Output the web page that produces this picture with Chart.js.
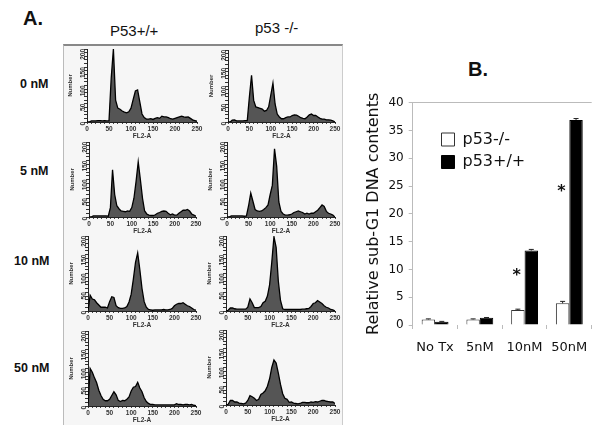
<!DOCTYPE html>
<html><head><meta charset="utf-8">
<script src="https://cdn.jsdelivr.net/npm/chart.js@4"></script>
<style>
html,body{margin:0;padding:0;background:#fff;width:600px;height:433px;overflow:hidden}
#page{position:relative;width:600px;height:433px}
#sheet{position:absolute;left:63px;top:44px;width:280px;height:381px;background:#f6f6f6;border-top:2px solid #888;border-left:1px solid #bbb;border-right:1px solid #ccc;box-sizing:border-box}
canvas{position:absolute;display:block}
.t{position:absolute;white-space:nowrap;color:#111;font-family:"Liberation Sans",Arial,sans-serif;line-height:1}
.h{font-weight:bold;font-size:20px}
.c{font-size:15px}
.r{font-weight:bold;font-size:12.5px}
</style></head>
<body><div id="page"><div id="sheet"></div></div>
<script>
// ---------- panel A data ----------
const fl2Bins=[0,5,10,15,20,25,30,35,40,45,50,55,60,65,70,75,80,85,90,95,100,105,110,115,120,125,130,135,140,145,150,155,160,165,170,175,180,185,190,195,200,205,210,215,220,225,230,235,240,245,250];
const wt0=[0,0,3,3,3,4,4,3,4,3, 3,120,200,60,38,35,30,27,25,28, 38,62,85,88,55,22,12,8,8,9, 7,10,12,10,16,14,14,12,9,8, 10,12,14,16,14,13,14,10,6,4, 2];
const ko0=[0,0,5,6,3,3,3,3,4,4, 70,130,60,42,40,38,36,30,32,42, 75,108,50,22,14,9,9,12,14,14, 18,20,19,16,12,10,9,14,20,22, 18,18,14,10,8,8,6,6,5,3, 0];
const wt5=[0,0,3,3,3,3,3,3,3,2, 25,126,60,30,22,16,15,14,16,15, 25,50,95,147,100,50,16,8,5,4, 4,6,10,12,15,16,15,10,6,8, 5,5,10,14,18,18,20,16,8,5, 2];
const ko5=[0,0,3,3,3,3,3,3,2,3, 30,64,42,20,16,15,16,20,25,32, 60,85,182,135,40,15,8,5,5,6, 8,12,14,16,14,12,8,10,8,10, 10,14,18,25,32,28,15,10,8,5, 0];
const wt10=[0,42,32,30,22,16,10,10,10,8, 25,38,36,14,9,7,7,8,12,24, 45,85,130,155,110,60,25,10,4,3, 2,3,3,3,3,4,3,3,4,7, 14,18,20,20,22,18,14,12,8,4, 2];
const ko10=[0,2,8,8,6,5,5,5,5,5, 10,32,22,9,9,9,12,22,26,40, 70,130,198,170,80,28,6,4,4,4, 4,4,4,4,4,5,5,6,7,12, 20,22,28,24,20,14,10,8,4,3, 0];
const wt50=[0,100,90,75,62,42,28,18,14,14, 18,28,38,30,15,12,15,14,18,24, 40,50,52,63,48,38,22,12,7,4, 4,3,3,3,3,3,3,3,3,3, 3,6,4,4,3,4,4,3,4,2, 1];
const ko50=[0,2,12,12,8,8,5,4,3,5, 12,25,22,18,12,15,28,32,38,50, 70,100,120,112,85,55,30,18,15,7, 8,5,4,3,4,7,7,6,6,8, 7,9,8,10,12,12,10,9,8,8, 4];
const histYTicks=[0,50,100,150,200];
const histXTicks=[0,50,100,150,200,250];
// ---------- panel B data ----------
const doseLabels=["No Tx","5nM","10nM","50nM"];
const koSubG1=[1.0,1.0,2.7,3.9];
const koErr=[0.1,0.1,0.15,0.35];
const wtSubG1=[0.6,1.3,13.4,36.9];
const wtErr=[0.05,0.05,0.2,0.25];
const starDoses=["10nM","50nM"];
const starValues=[8.9,24];

const page=document.getElementById('page');
function text(str,cls,l,t){const d=document.createElement('div');d.className='t '+cls;d.textContent=str;d.style.left=l+'px';d.style.top=t+'px';page.appendChild(d);}
function mk(l,t,w,h,blur){const c=document.createElement('canvas');c.width=w;c.height=h;c.style.left=l+'px';c.style.top=t+'px';c.style.width=w+'px';c.style.height=h+'px';if(blur)c.style.filter='blur('+blur+'px)';page.appendChild(c);return c;}
Chart.defaults.animation=false;
Chart.defaults.font.family='"Liberation Sans",Arial,sans-serif';

function hist(vals,x0,x250,y0,y200){
  const L=20,R=8,T=6,B=18;
  const c=mk(Math.round(x0-L),Math.round(y200-T),Math.round(x250-x0+L+R),Math.round(y0-y200+T+B),0.45);
  new Chart(c,{type:'line',
    data:{datasets:[{data:fl2Bins.map((x,i)=>({x,y:vals[i]})),borderColor:'#000',borderWidth:1.3,backgroundColor:'#555',fill:'origin',pointRadius:0,tension:0}]},
    options:{responsive:false,events:[],layout:{padding:{top:T,right:R}},
      plugins:{legend:{display:false},tooltip:{enabled:false}},
      scales:{
        x:{type:'linear',min:0,max:250,afterFit(s){s.height=B;},
          afterBuildTicks(s){const a=[];for(let v=0;v<=250;v+=10)a.push({value:v});s.ticks=a;},
          border:{color:'#222',width:1},
          grid:{drawOnChartArea:false,tickLength:2,tickColor:'#444'},
          ticks:{autoSkip:false,maxRotation:0,padding:1,color:'#333',font:{size:6.5,weight:'bold'},callback:v=>histXTicks.includes(v)?String(v):''},
          title:{display:true,text:'FL2-A',color:'#333',font:{size:6.5,weight:'bold'},padding:{top:-1,bottom:0}}},
        y:{min:0,max:200,afterFit(s){s.width=L;},
          afterBuildTicks(s){const a=[];for(let v=0;v<=200;v+=10)a.push({value:v});s.ticks=a;},
          border:{color:'#222',width:1},
          grid:{drawOnChartArea:false,tickLength:3,tickColor:'#333'},
          ticks:{autoSkip:false,minRotation:90,maxRotation:90,padding:1,color:'#333',font:{size:6.5,weight:'bold'},callback:v=>histYTicks.includes(v)?String(v):''},
          title:{display:true,text:'Number',color:'#333',font:{size:6,weight:'bold'},padding:{top:0,bottom:0}}}
      }}});
}
hist(wt0,86.7,197,122.3,49);
hist(ko0,227.7,335,122.3,50);
hist(wt5,89.3,196.7,216.7,141.7);
hist(ko5,226.7,335,216.7,141.7);
hist(wt10,88.3,196.7,311,236);
hist(ko10,226,335,311,236);
hist(wt50,88.3,196.7,405.7,330.7);
hist(ko50,226,335,405,330);

text('A.','h',23,8);
text('B.','h',468,59);
text('P53+/+','c',110,23);
text('p53 -/-','c',255,20);
text('0 nM','r',20,78);
text('5 nM','r',20,165);
text('10 nM','r',14,255);
text('50 nM','r',14,362);

// ---------- panel B chart ----------
const bX=364,bY=90,bW=236,bH=268;
const bL=48.7,bT=12.7,bR=8.3,bB=33;
const barPlugin={id:'barExtras',
  afterLayout(chart){const lg=chart.legend;lg.left=435-bX;lg.top=125-bY;},
  afterDatasetsDraw(chart){
    const {ctx,scales:{x,y}}=chart;
    const errs=[koErr,wtErr];
    ctx.save();ctx.strokeStyle='#222';ctx.lineWidth=1;
    chart.data.datasets.forEach((ds,di)=>{
      chart.getDatasetMeta(di).data.forEach((el,i)=>{
        const top=y.getPixelForValue(ds.data[i]+errs[di][i]);
        const base=y.getPixelForValue(ds.data[i]);
        ctx.beginPath();ctx.moveTo(el.x,base);ctx.lineTo(el.x,top);
        ctx.moveTo(el.x-2.5,top);ctx.lineTo(el.x+2.5,top);ctx.stroke();
      });
    });
    ctx.fillStyle='#111';ctx.font='bold 16px "DejaVu Sans"';ctx.textAlign='center';ctx.textBaseline='middle';
    starDoses.forEach((d,i)=>ctx.fillText('*',x.getPixelForValue(doseLabels.indexOf(d))-8,y.getPixelForValue(starValues[i])));
    ctx.restore();
  }};
const bc=mk(bX,bY,bW,bH,0.3);
new Chart(bc,{type:'bar',plugins:[barPlugin],
  data:{labels:doseLabels,datasets:[
    {label:'p53-/-',data:koSubG1,backgroundColor:'#fff',borderColor:'#333',borderWidth:1,categoryPercentage:0.6,barPercentage:1},
    {label:'p53+/+',data:wtSubG1,backgroundColor:'#000',borderColor:'#000',borderWidth:1,categoryPercentage:0.6,barPercentage:1}]},
  options:{responsive:false,events:[],layout:{padding:{top:bT,right:bR}},
    plugins:{tooltip:{enabled:false},
      legend:{position:'chartArea',align:'start',labels:{boxWidth:13,boxHeight:13,padding:6.5,color:'#111',font:{family:'"DejaVu Sans"',size:16}}}},
    scales:{
      x:{afterFit(s){s.height=bB;},
        border:{display:false},
        grid:{drawOnChartArea:true,color:c=>c.index===doseLabels.length?'#bbb':'transparent',tickColor:'#bbb',tickLength:4},
        ticks:{maxRotation:0,padding:11,color:'#111',font:{family:'"DejaVu Sans"',size:13}}},
      y:{min:0,max:40,afterFit(s){s.width=bL;},
        border:{color:'#bbb',width:1},
        grid:{drawOnChartArea:true,color:c=>c.tick.value===40?'#bbb':'transparent',tickColor:'#bbb',tickLength:4},
        ticks:{stepSize:5,padding:5,color:'#111',font:{family:'"DejaVu Sans"',size:12}},
        title:{display:true,text:'Relative sub-G1 DNA contents',color:'#111',font:{family:'"DejaVu Sans"',size:16},padding:{top:0,bottom:2}}}
    }}});
</script></body></html>
